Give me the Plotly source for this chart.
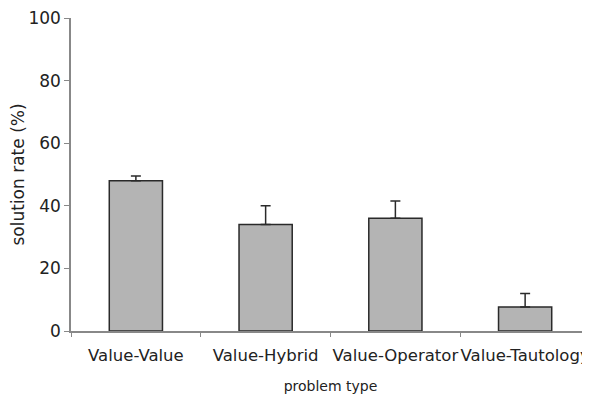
import plotly.graph_objects as go

categories = ["Value-Value", "Value-Hybrid", "Value-Operator", "Value-Tautology"]
solution_rate = [48, 34, 36, 7.7]
error_up = [1.5, 6, 5.5, 4.3]

fig = go.Figure()
fig.add_trace(go.Bar(
    x=categories,
    y=solution_rate,
    width=0.41,
    marker=dict(color="#b4b4b4", line=dict(color="#2a2a2a", width=1.5)),
    error_y=dict(type="data", symmetric=False, array=error_up,
                 arrayminus=[0] * len(error_up),
                 color="#2a2a2a", thickness=1.5, width=5),
))

font_family = "DejaVu Sans, Verdana, sans-serif"
fig.update_layout(
    width=582, height=397,
    margin=dict(l=63, r=0, t=10, b=74),
    paper_bgcolor="white", plot_bgcolor="white",
    showlegend=False,
    font=dict(family=font_family, size=14, color="#222"),
    xaxis=dict(
        range=[-0.5, 3.5],
        showline=True, linecolor="#888", linewidth=1.5,
        ticks="outside", tickson="boundaries", ticklen=4, tickcolor="#888",
        showgrid=False, automargin=False, tickangle=0,
        ticklabeloverflow="allow", ticklabelstandoff=8,
        title=dict(text="problem type", standoff=18, font=dict(size=14)),
        tickfont=dict(size=16.5),
    ),
    yaxis=dict(
        range=[0, 100], dtick=20,
        showline=True, linecolor="#888", linewidth=1.5,
        ticks="outside", ticklen=5, tickcolor="#888",
        showgrid=False, zeroline=False, automargin=False,
        ticklabeloverflow="allow",
        title=dict(text="solution rate (%)", standoff=14, font=dict(size=17)),
        tickfont=dict(size=17),
    ),
)

fig.write_html("out.html")
